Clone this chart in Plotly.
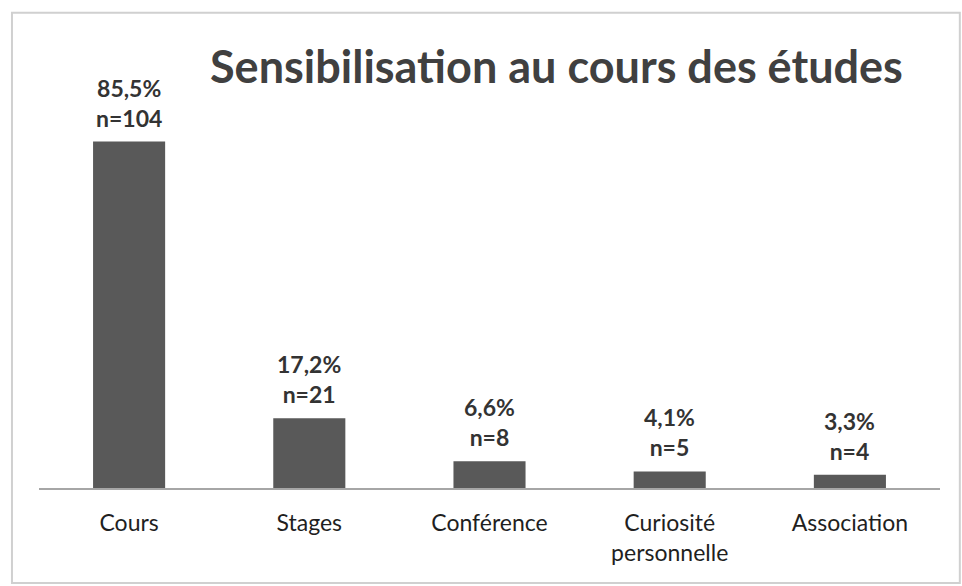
import plotly.graph_objects as go

# Data
categories = ['Cours', 'Stages', 'Conférence', 'Curiosité<br>personnelle', 'Association']
percents = [85.5, 17.2, 6.6, 4.1, 3.3]
counts = [104, 21, 8, 5, 4]
pct_labels = ['85,5%', '17,2%', '6,6%', '4,1%', '3,3%']

fig = go.Figure()
fig.add_trace(go.Bar(
    x=categories,
    y=percents,
    marker=dict(color='#595959', line=dict(width=0)),
    width=0.4,
    showlegend=False,
    hoverinfo='skip',
))

# Value labels above each bar
for cat, val, p, n in zip(categories, percents, pct_labels, counts):
    fig.add_annotation(
        x=cat, y=val, text=f'<b>{p}<br>n={n}</b>',
        xanchor='center', yanchor='bottom', yshift=8, showarrow=False,
        font=dict(family='Lato', size=23, color='#333333'),
    )

# Title
fig.add_annotation(
    text='<b>Sensibilisation au cours des études</b>',
    xref='paper', yref='paper', x=0.574, y=0.905,
    xanchor='center', yanchor='middle', showarrow=False,
    font=dict(family='Lato', size=45, color='#404040'),
)

# Outer frame
fig.add_shape(type='rect', xref='paper', yref='paper',
              x0=-0.03, x1=1.022, y0=-0.204, y1=1.02,
              line=dict(color='#d0d0d0', width=2), layer='below')

fig.update_layout(
    width=962, height=586,
    margin=dict(l=39, r=22, t=22, b=98),
    plot_bgcolor='white', paper_bgcolor='white',
    bargap=0.6,
    xaxis=dict(
        showline=True, linecolor='#a6a6a6', linewidth=1.5,
        ticks='', showgrid=False, ticklabelstandoff=14,
        tickfont=dict(family='Lato', size=23, color='#1f1f1f'),
    ),
    yaxis=dict(range=[0, 115], visible=False, showgrid=False),
)

fig.write_html('out.html', config={'displayModeBar': False},
               post_script="document.body.style.margin='0';")
